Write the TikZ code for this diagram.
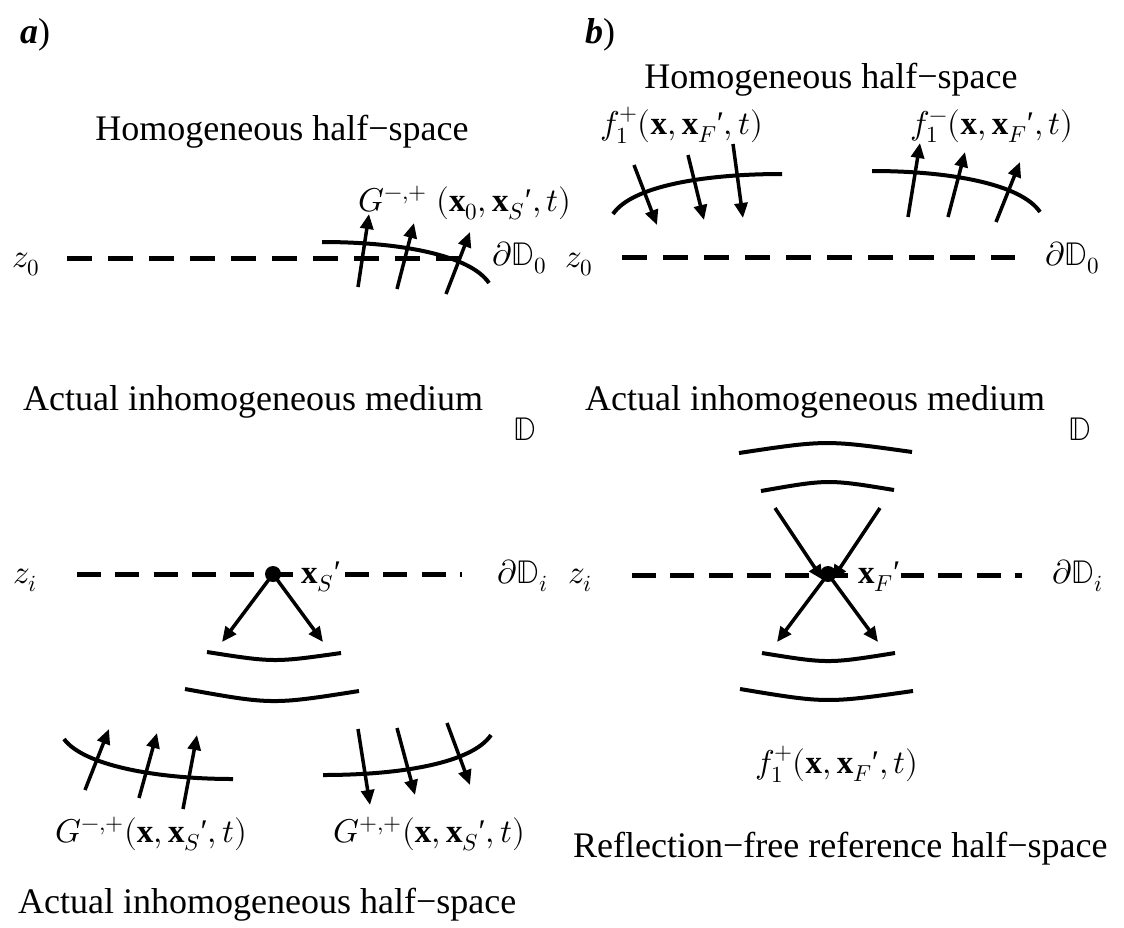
\documentclass[tikz,border=0pt]{standalone}
\usepackage{fontspec}
\usepackage{unicode-math}
\setmainfont{Liberation Serif}
\setmathfont{Latin Modern Math}
\usetikzlibrary{arrows.meta}
\newcommand{\pr}{\mbox{′}}
\begin{document}
\begin{tikzpicture}[x=1pt,y=-1pt,
  txt/.style={font=\fontsize{36}{43}\selectfont, inner sep=0pt},
  mth/.style={font=\fontsize{33}{40}\selectfont, inner sep=0pt},
  dline/.style={line width=5pt, dash pattern=on 25pt off 16pt},
  dlineb/.style={line width=5pt, dash pattern=on 24pt off 14.3pt},
  wave/.style={line width=4pt},
  arr/.style={line width=3.5pt, -{Triangle[length=15pt,width=13pt]}},
  dot/.style={circle, fill=black, inner sep=0pt, minimum size=16pt}]
\useasboundingbox (0,0) rectangle (1124,927);

% ---------- panel labels and titles ----------
\node[txt, anchor=base west] (la) at (20,43) {\textbf{\textit{a}})};
\node[txt, anchor=base west] (lb) at (585,43) {\textbf{\textit{b}})};
\node[txt, anchor=base] (homa) at (282,140) {Homogeneous half−space};
\node[txt, anchor=base] (homb) at (831,88) {Homogeneous half−space};
\node[txt, anchor=base west] (meda) at (23,410) {Actual inhomogeneous medium};
\node[txt, anchor=base west] (medb) at (585,410) {Actual inhomogeneous medium};
\node[mth, anchor=base west] (Da) at (513,440) {$\mathbb{D}$};
\node[mth, anchor=base west] (Db) at (1068,440) {$\mathbb{D}$};
\node[txt, anchor=base west] (hsa) at (18,913) {Actual inhomogeneous half−space};
\node[txt, anchor=base west] (hsb) at (573,857) {Reflection−free reference half−space};

% ---------- level z0 ----------
\node[mth, anchor=base west] (z0a) at (12,267) {$z_0$};
\node[mth, anchor=base west] (z0b) at (565,267) {$z_0$};
\node[mth, anchor=base west] (d0a) at (492,265) {$\partial\mathbb{D}_0$};
\node[mth, anchor=base west] (d0b) at (1045,265) {$\partial\mathbb{D}_0$};
\coordinate (l0a1) at (67,258); \coordinate (l0a2) at (470,258);
\coordinate (l0b1) at (622,257); \coordinate (l0b2) at (1015,257);
\draw[dline] (l0a1) -- (l0a2);
\draw[dline] (l0b1) -- (l0b2);

% ---------- level zi ----------
\node[mth, anchor=base west] (zia) at (13,583) {$z_i$};
\node[mth, anchor=base west] (zib) at (568,583) {$z_i$};
\node[mth, anchor=base west] (dia) at (497,583) {$\partial\mathbb{D}_i$};
\node[mth, anchor=base west] (dib) at (1052,583) {$\partial\mathbb{D}_i$};
\coordinate (lia1) at (77,574); \coordinate (lia2) at (462,574);
\coordinate (lib1) at (632,575); \coordinate (lib2) at (1022,575);
\draw[dlineb] (lia1) -- (lia2);
\draw[dlineb] (lib1) -- (lib2);

% ---------- panel a, top ----------
\draw[wave] (322,242) .. controls (400,242) and (470,255) .. (489,283);
\draw[arr] (358,287) -- (369,214);
\draw[arr] (397,289) -- (414,223);
\draw[arr] (446,294) -- (470,232);
\node[mth, anchor=base west] (Gtop) at (358,211) {$G^{-,+}\;(\mathbf{x}_0,\mathbf{x}_S\pr,t)$};

% ---------- panel b, top ----------
\draw[wave] (613,214) .. controls (632,186) and (704,174) .. (782,174);
\draw[arr] (634,165) -- (657,225);
\draw[arr] (688,155) -- (704,220);
\draw[arr] (733,144) -- (743,218);
\draw[wave] (872,171) .. controls (950,171) and (1021,184) .. (1040,212);
\draw[arr] (908,217) -- (920,143);
\draw[arr] (948,217) -- (965,152);
\draw[arr] (996,222) -- (1020,162);
\node[mth, anchor=base west] (fp) at (600,134) {$f_1^{+}(\mathbf{x},\mathbf{x}_F\pr,t)$};
\node[mth, anchor=base west] (fm) at (910,134) {$f_1^{-}(\mathbf{x},\mathbf{x}_F\pr,t)$};

% ---------- panel a, bottom ----------
\node[dot] (xs) at (273,574) {};
\node[mth, anchor=base west, fill=white, inner xsep=1pt] (xsl) at (300,583) {$\mathbf{x}_S\pr$};
\coordinate (sl) at (222,642); \coordinate (sr) at (323,642);
\draw[arr] (xs.center) -- (sl);
\draw[arr] (xs.center) -- (sr);
\draw[wave] (207,652) .. controls (274,662.5) .. (341,653);
\draw[wave] (185,689) .. controls (272,704.7) .. (359,691);
\draw[wave] (64,739) .. controls (83,765) and (155,779) .. (233,779);
\draw[arr] (85,790) -- (109,729);
\draw[arr] (139,798) -- (157,733);
\draw[arr] (183,809) -- (197,735);
\draw[wave] (323,775) .. controls (401,775) and (472,763) .. (491,735);
\draw[arr] (358,729) -- (370,805);
\draw[arr] (397,728) -- (415,795);
\draw[arr] (447,723) -- (470,785);
\node[mth, anchor=base west] (Gmp) at (55,842) {$G^{-,+}(\mathbf{x},\mathbf{x}_S\pr,t)$};
\node[mth, anchor=base west] (Gpp) at (333,842) {$G^{+,+}(\mathbf{x},\mathbf{x}_S\pr,t)$};

% ---------- panel b, bottom ----------
\draw[wave] (739,453) .. controls (826,439.9) .. (912,452);
\draw[wave] (761,491) .. controls (828,479.2) .. (894,490);
\node[dot] (xf) at (828,574) {};
\node[mth, anchor=base west, fill=white, inner xsep=1pt] (xfl) at (857,583) {$\mathbf{x}_F\pr$};
\coordinate (il) at (775,508); \coordinate (ir) at (880,508);
\coordinate (ol) at (777,642); \coordinate (or) at (878,642);
\draw[arr] (il) -- ([xshift=-5pt,yshift=-6pt]xf.center);
\draw[arr] (ir) -- ([xshift=4pt,yshift=-6pt]xf.center);
\draw[arr] (xf.center) -- (ol);
\draw[arr] (xf.center) -- (or);
\draw[wave] (762,653) .. controls (828,663.7) .. (895,653);
\draw[wave] (740,689) .. controls (826,703.3) .. (913,691);
\node[mth, anchor=base west] (fpb) at (755,773) {$f_1^{+}(\mathbf{x},\mathbf{x}_F\pr,t)$};
\end{tikzpicture}
\end{document}
